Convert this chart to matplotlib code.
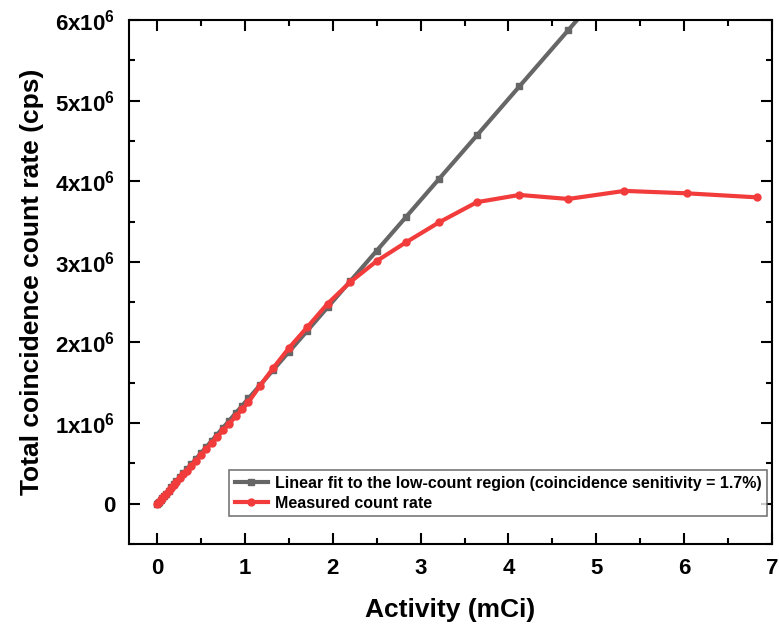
import matplotlib.pyplot as plt
from matplotlib.ticker import MultipleLocator, FuncFormatter

plt.rcParams['font.family'] = ['Liberation Sans', 'DejaVu Sans']
plt.rcParams['font.weight'] = 'bold'
plt.rcParams['mathtext.default'] = 'regular'

# activity in mCi
activity = [0, 0.01, 0.02, 0.04, 0.06, 0.08, 0.10, 0.13, 0.16, 0.19,
            0.22, 0.26, 0.30, 0.34, 0.39, 0.44, 0.50, 0.56, 0.62, 0.68,
            0.75, 0.82, 0.90, 0.97, 1.04, 1.17, 1.32, 1.50, 1.71, 1.94,
            2.20, 2.50, 2.83, 3.21, 3.64, 4.125, 4.68, 5.32, 6.03, 6.83]

# measured total coincidence count rate (x1e6 cps)
measured = [0, 0.012, 0.024, 0.048, 0.072, 0.097, 0.121, 0.157, 0.194, 0.230,
            0.266, 0.315, 0.363, 0.411, 0.472, 0.532, 0.605, 0.678, 0.750, 0.823,
            0.908, 0.992, 1.089, 1.174, 1.26, 1.46, 1.68, 1.93, 2.19, 2.48,
            2.75, 3.01, 3.24, 3.49, 3.74, 3.83, 3.78, 3.88, 3.85, 3.80]

# linear fit to the low-count region (x1e6 cps)
linear_fit = [0, 0.0126, 0.0251, 0.0502, 0.0753, 0.100, 0.1255, 0.163, 0.201, 0.238,
              0.276, 0.326, 0.377, 0.427, 0.489, 0.552, 0.628, 0.703, 0.778, 0.853,
              0.941, 1.029, 1.130, 1.217, 1.305, 1.468, 1.657, 1.883, 2.146, 2.435,
              2.761, 3.138, 3.552, 4.029, 4.568, 5.177, 5.873, 6.677, 7.568, 8.572]

fig = plt.figure(figsize=(7.79, 6.27), dpi=100)
ax = fig.add_axes([0.1656, 0.1324, 0.8254, 0.8357])

ax.plot(activity, [v * 1e6 for v in linear_fit], color='#666666', linewidth=3,
        marker='s', markersize=4,
        label='Linear fit to the low-count region (coincidence senitivity = 1.7%)')
ax.plot(activity, [v * 1e6 for v in measured], color='#f23c3c', linewidth=3,
        marker='o', markersize=5, label='Measured count rate')

ax.set_xlim(-0.32, 7)
ax.set_ylim(-0.5e6, 6e6)
ax.xaxis.set_major_locator(MultipleLocator(1))
ax.xaxis.set_minor_locator(MultipleLocator(0.5))
ax.yaxis.set_major_locator(MultipleLocator(1e6))
ax.yaxis.set_minor_locator(MultipleLocator(0.5e6))


def yfmt(v, pos):
    n = int(round(v / 1e6))
    if n == 0:
        return '0'
    return '%dx10$^{6}$' % n


ax.yaxis.set_major_formatter(FuncFormatter(yfmt))
ax.tick_params(which='both', direction='in', top=True, right=True, width=1.5)
ax.tick_params(which='major', length=8, labelsize=16, pad=10)
ax.tick_params(which='minor', length=4)
for s in ax.spines.values():
    s.set_linewidth(1.5)

ax.set_xlabel('Activity (mCi)', fontsize=19, fontweight='bold', labelpad=14)
ax.set_ylabel('Total coincidence count rate (cps)', fontsize=19, fontweight='bold', labelpad=8)

leg = ax.legend(loc='lower right', bbox_to_anchor=(0.992, 0.053), borderaxespad=0,
                fontsize=11.5, fancybox=False, edgecolor='#555555', handlelength=2.1,
                borderpad=0.35, labelspacing=0.3, handletextpad=0.4)
leg.get_frame().set_linewidth(1.2)

plt.savefig('out.png', dpi=100)
